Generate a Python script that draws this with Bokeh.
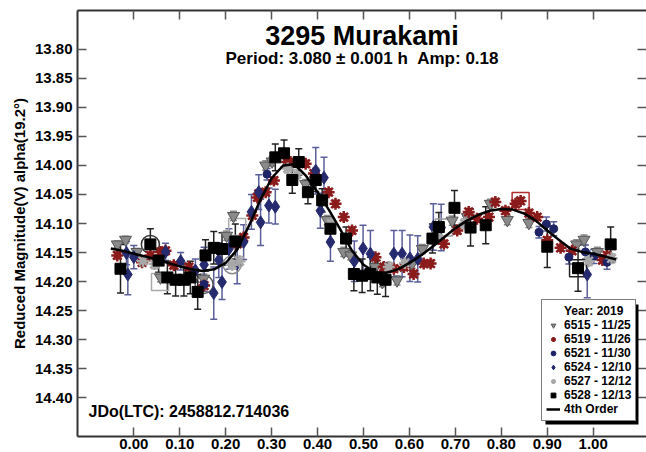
from bokeh.plotting import figure
from bokeh.models import (Range1d, FixedTicker, NumeralTickFormatter, LinearAxis,
                          Whisker, ColumnDataSource, Legend, LegendItem, Label,
                          TeeHead, BoxAnnotation)
from bokeh.embed import file_html
from bokeh.resources import INLINE

# ---- lightcurve data (phase, reduced magnitude, error) per session ----
s6515_phase = [-0.036, -0.018, 0.007, 0.058, 0.152, 0.202, 0.217, 0.287, 0.301, 0.374,
               0.421, 0.457, 0.472, 0.526, 0.541, 0.573, 0.606, 0.628, 0.693, 0.726,
               0.776, 0.813, 0.860, 0.964, 0.980, 1.009]
s6515_mag = [14.136, 14.128, 14.149, 14.193, 14.195, 14.121, 14.087, 14.000, 13.993, 14.032,
             14.094, 14.149, 14.155, 14.175, 14.201, 14.198, 14.169, 14.144, 14.095, 14.089,
             14.066, 14.094, 14.099, 14.136, 14.128, 14.149]
s6515_err = [0.006, 0.006, 0.006, 0.008, 0.008, 0.008, 0.008, 0.008, 0.008, 0.008,
             0.008, 0.008, 0.008, 0.008, 0.008, 0.008, 0.008, 0.008, 0.008, 0.008,
             0.008, 0.008, 0.008, 0.008, 0.008, 0.008]

s6519_phase = [-0.036, 0.018, 0.036, 0.058, 0.069, 0.087, 0.120, 0.153, 0.225, 0.239,
               0.258, 0.269, 0.272, 0.287, 0.305, 0.334, 0.341, 0.374, 0.392, 0.424,
               0.439, 0.457, 0.475, 0.526, 0.544, 0.566, 0.588, 0.609, 0.631, 0.646,
               0.675, 0.704, 0.729, 0.747, 0.773, 0.787, 0.809, 0.831, 0.842, 0.860,
               0.878, 0.900, 0.929, 0.954, 1.020, 1.030]
s6519_mag = [14.155, 14.167, 14.155, 14.149, 14.147, 14.172, 14.175, 14.207, 14.135, 14.124,
             14.086, 14.055, 14.049, 14.046, 14.026, 13.994, 13.994, 13.997, 14.014, 14.046,
             14.066, 14.089, 14.112, 14.158, 14.175, 14.178, 14.175, 14.187, 14.169, 14.169,
             14.135, 14.112, 14.080, 14.092, 14.089, 14.063, 14.078, 14.066, 14.061, 14.082,
             14.089, 14.129, 14.142, 14.147, 14.163, 14.155]
s6519_err = [0.006] * len(s6519_phase)

s6521_phase = [0.153, 0.290, 0.882, 0.898, 0.914, 0.947, 0.983, 1.001, 1.030]
s6521_mag = [14.205, 14.015, 14.115, 14.101, 14.109, 14.158, 14.149, 14.157, 14.167]
s6521_err = [0.012, 0.010, 0.010, 0.012, 0.012, 0.012, 0.012, 0.012, 0.012]

s6524_phase = [-0.016, -0.013, 0.000, 0.069, 0.102, 0.134, 0.153, 0.174, 0.185, 0.192,
               0.207, 0.225, 0.239, 0.256, 0.272, 0.276, 0.294, 0.308, 0.396, 0.406,
               0.414, 0.428, 0.480, 0.499, 0.515, 0.566, 0.584, 0.601, 0.618, 0.652,
               0.669, 0.987]
s6524_mag = [14.151, 14.188, 14.158, 14.149, 14.165, 14.181, 14.171, 14.220, 14.163, 14.201,
             14.144, 14.169, 14.132, 14.080, 14.046, 14.098, 14.069, 14.071, 14.009, 14.078,
             14.021, 14.132, 14.165, 14.143, 14.152, 14.152, 14.152, 14.160, 14.161, 14.106,
             14.107, 14.188]
s6524_err = [0.020, 0.035, 0.020, 0.015, 0.015, 0.020, 0.030, 0.045, 0.030, 0.030,
             0.035, 0.035, 0.030, 0.030, 0.030, 0.040, 0.030, 0.030, 0.040, 0.030,
             0.035, 0.033, 0.035, 0.040, 0.040, 0.040, 0.040, 0.040, 0.040, 0.040,
             0.040, 0.040]

s6527_phase = [0.020, 0.045, 0.214, 0.230, 0.335, 0.355, 0.430, 0.555, 0.590, 0.660,
               0.720, 0.990, 1.040]
s6527_mag = [14.165, 14.170, 14.171, 14.165, 14.005, 14.015, 14.100, 14.175, 14.168, 14.120,
             14.100, 14.165, 14.160]
s6527_err = [0.008] * len(s6527_phase)

s6528_phase = [-0.029, 0.036, 0.054, 0.073, 0.091, 0.109, 0.123, 0.139, 0.156, 0.174,
               0.192, 0.221, 0.308, 0.327, 0.345, 0.359, 0.379, 0.396, 0.410, 0.428,
               0.462, 0.479, 0.497, 0.515, 0.530, 0.548, 0.650, 0.664, 0.698, 0.733,
               0.766, 0.900, 0.967, 1.038]
s6528_mag = [14.178, 14.136, 14.164, 14.193, 14.197, 14.197, 14.193, 14.218, 14.155, 14.142,
             14.144, 14.131, 13.986, 13.979, 14.025, 13.994, 14.046, 14.025, 14.060, 14.109,
             14.126, 14.187, 14.190, 14.187, 14.193, 14.197, 14.126, 14.106, 14.073, 14.107,
             14.103, 14.140, 14.177, 14.136]
s6528_err = [0.042, 0.027, 0.020, 0.028, 0.028, 0.028, 0.028, 0.030, 0.027, 0.028,
             0.028, 0.030, 0.023, 0.023, 0.023, 0.023, 0.020, 0.020, 0.020, 0.020,
             0.020, 0.029, 0.029, 0.029, 0.029, 0.029, 0.025, 0.025, 0.030, 0.032,
             0.032, 0.036, 0.040, 0.030]

# flagged observations (drawn with open rings)
ring_circle_phase = [0.036, 0.153, 0.214]
ring_circle_mag = [14.136, 14.205, 14.171]
ring_circle_color = ["#333333", "#555555", "#888888"]
ring_square_phase = [0.842, 0.967, 0.675, 0.225, 0.057]
ring_square_mag = [14.061, 14.177, 14.107, 14.106, 14.201]
ring_square_color = ["#B03030", "#222222", "#999999", "#AAAAAA", "#AAAAAA"]

# 4th order Fourier fit, sampled along the phase
fit_phase = [-0.050, -0.025, 0.000, 0.025, 0.050, 0.075, 0.100, 0.125, 0.150, 0.175,
             0.200, 0.225, 0.250, 0.275, 0.300, 0.325, 0.350, 0.375, 0.400, 0.425,
             0.450, 0.475, 0.500, 0.525, 0.550, 0.575, 0.600, 0.625, 0.650, 0.675,
             0.700, 0.725, 0.750, 0.775, 0.800, 0.825, 0.850, 0.875, 0.900, 0.925,
             0.950, 0.975, 1.000, 1.025, 1.050]
fit_mag = [14.143, 14.147, 14.152, 14.157, 14.162, 14.168, 14.174, 14.179, 14.182, 14.179,
           14.168, 14.145, 14.105, 14.060, 14.022, 14.000, 13.998, 14.018, 14.046, 14.077,
           14.111, 14.147, 14.171, 14.184, 14.185, 14.179, 14.168, 14.155, 14.140, 14.124,
           14.108, 14.095, 14.085, 14.078, 14.075, 14.076, 14.083, 14.095, 14.112, 14.128,
           14.143, 14.149, 14.152, 14.157, 14.162]

x_ticks = [0.0, 0.1, 0.2, 0.3, 0.4, 0.5, 0.6, 0.7, 0.8, 0.9, 1.0]
y_ticks = [13.80, 13.85, 13.90, 13.95, 14.00, 14.05, 14.10, 14.15, 14.20, 14.25,
           14.30, 14.35, 14.40]

FONT = "Liberation Sans"
X0, X1 = -0.1226, 1.116
Y_TOP, Y_BOT = 13.7328, 14.4672
FRAME_L, FRAME_T = 77, 10
PX_X = 459.4
PX_Y = 580.0


def px_to_x(px):
    return X0 + (px - FRAME_L) / PX_X


def px_to_y(py):
    return Y_TOP + (py - FRAME_T) / PX_Y


p = figure(width=646, height=452, x_range=Range1d(X0, X1),
           y_range=Range1d(Y_BOT, Y_TOP), output_backend="svg",
           toolbar_location=None, min_border_left=FRAME_L, min_border_right=0,
           min_border_top=FRAME_T, min_border_bottom=16)
p.xgrid.visible = False
p.ygrid.visible = False
p.outline_line_color = None
p.background_fill_color = "white"
p.border_fill_color = "white"


def style_axis(ax, ticks, labels=True):
    ax.ticker = FixedTicker(ticks=ticks)
    ax.formatter = NumeralTickFormatter(format="0.00")
    ax.major_tick_in = 9
    ax.major_tick_out = 0
    ax.minor_tick_in = 0
    ax.minor_tick_out = 0
    ax.major_tick_line_color = "#555555"
    ax.major_tick_line_width = 1.5
    ax.axis_line_color = "#333333"
    ax.axis_line_width = 2
    if labels:
        ax.major_label_text_font = FONT
        ax.major_label_text_font_style = "bold"
        ax.major_label_text_font_size = "15px"
        ax.major_label_text_color = "black"
    else:
        # tick marks only, no labels on this side
        ax.major_label_overrides = {t: "" for t in ticks}
        ax.major_label_text_color = None
        ax.major_label_text_font_size = "1px"
        ax.major_label_standoff = 0


style_axis(p.xaxis[0], x_ticks)
p.xaxis[0].major_label_standoff = 2
style_axis(p.yaxis[0], y_ticks)
p.yaxis[0].major_label_standoff = 5
p.yaxis[0].axis_label = "Reduced Magnitude(V) alpha(19.2°)"
p.yaxis[0].axis_label_text_font = FONT
p.yaxis[0].axis_label_text_font_style = "bold"
p.yaxis[0].axis_label_text_font_size = "15px"
p.yaxis[0].axis_label_text_color = "black"
p.yaxis[0].axis_label_standoff = 4

top_ax = LinearAxis()
style_axis(top_ax, x_ticks, labels=False)
p.add_layout(top_ax, "above")
right_ax = LinearAxis()
style_axis(right_ax, y_ticks, labels=False)
right_ax.axis_line_color = None
p.add_layout(right_ax, "right")


def errbars(phase, mag, err, color):
    src = ColumnDataSource(dict(x=phase,
                                lo=[m - e for m, e in zip(mag, err)],
                                hi=[m + e for m, e in zip(mag, err)]))
    w = Whisker(source=src, base="x", lower="lo", upper="hi",
                line_color=color, line_width=1.5,
                upper_head=TeeHead(size=7, line_color=color, line_width=1.5),
                lower_head=TeeHead(size=7, line_color=color, line_width=1.5))
    p.add_layout(w)


errbars(s6515_phase, s6515_mag, s6515_err, "#888888")
errbars(s6519_phase, s6519_mag, s6519_err, "#9A3A3A")
errbars(s6521_phase, s6521_mag, s6521_err, "#5A5E99")
errbars(s6524_phase, s6524_mag, s6524_err, "#5A5E99")
errbars(s6527_phase, s6527_mag, s6527_err, "#AAAAAA")
errbars(s6528_phase, s6528_mag, s6528_err, "#222222")

# open rings around flagged observations
p.scatter(ring_circle_phase, ring_circle_mag, marker="circle", size=18,
          fill_color=None, line_color=ring_circle_color, line_width=1.5)
p.scatter(ring_square_phase, ring_square_mag, marker="square", size=17,
          fill_color=None, line_color=ring_square_color, line_width=1.5)

r6515 = p.scatter(s6515_phase, s6515_mag, marker="inverted_triangle", size=12,
                  fill_color="#8A8A8A", line_color="#555555", line_width=1)
r6519 = p.scatter(s6519_phase, s6519_mag, marker="asterisk", size=12,
                  line_color="#8B1A1A", line_width=2.5)
r6521 = p.scatter(s6521_phase, s6521_mag, marker="circle", size=8,
                  fill_color="#1F2466", line_color="#1F2466")
r6524 = p.scatter(s6524_phase, s6524_mag, marker="diamond", size=13,
                  fill_color="#262A6E", line_color="#262A6E")
r6527 = p.scatter(s6527_phase, s6527_mag, marker="asterisk", size=12,
                  line_color="#A8A8A8", line_width=2.5)
r6528 = p.scatter(s6528_phase, s6528_mag, marker="square", size=11,
                  fill_color="black", line_color="black")
rfit = p.line(fit_phase, fit_mag, line_color="black", line_width=2.5)

hdr = p.scatter([], [], marker="circle", size=1, fill_alpha=0, line_alpha=0)

# title block inside the frame
xc = (X0 + X1) / 2
p.add_layout(Label(x=xc, y=px_to_y(35), text="3295 Murakami", text_font=FONT,
                   text_font_style="bold", text_font_size="27px", text_color="black",
                   text_align="center", text_baseline="middle"))
p.add_layout(Label(x=xc, y=px_to_y(58), text="Period: 3.080 ± 0.001 h \u00a0Amp: 0.18",
                   text_font=FONT, text_font_style="bold", text_font_size="17px",
                   text_color="black", text_align="center", text_baseline="middle"))
p.add_layout(Label(x=px_to_x(88), y=px_to_y(411), text="JDo(LTC): 2458812.714036",
                   text_font=FONT, text_font_style="bold", text_font_size="16px",
                   text_color="black", text_align="left", text_baseline="middle"))

# legend drop shadow
p.add_layout(BoxAnnotation(left=px_to_x(545), right=px_to_x(638),
                           top=px_to_y(304), bottom=px_to_y(424),
                           fill_color="black", fill_alpha=1, line_color=None))

legend = Legend(items=[
    LegendItem(label="Year: 2019", renderers=[hdr]),
    LegendItem(label="6515 - 11/25", renderers=[r6515]),
    LegendItem(label="6519 - 11/26", renderers=[r6519]),
    LegendItem(label="6521 - 11/30", renderers=[r6521]),
    LegendItem(label="6524 - 12/10", renderers=[r6524]),
    LegendItem(label="6527 - 12/12", renderers=[r6527]),
    LegendItem(label="6528 - 12/13", renderers=[r6528]),
    LegendItem(label="4th Order", renderers=[rfit]),
], location=(464, 15))
legend.label_text_font = FONT
legend.label_text_font_style = "bold"
legend.label_text_font_size = "12px"
legend.label_text_color = "black"
legend.label_height = 14
legend.glyph_height = 12
legend.glyph_width = 14
legend.label_standoff = 4
legend.spacing = 0
legend.padding = 4
legend.margin = 0
legend.border_line_color = "black"
legend.border_line_width = 1.5
legend.background_fill_color = "white"
legend.background_fill_alpha = 1
p.add_layout(legend)

open("out.html", "w").write(file_html(p, INLINE))
